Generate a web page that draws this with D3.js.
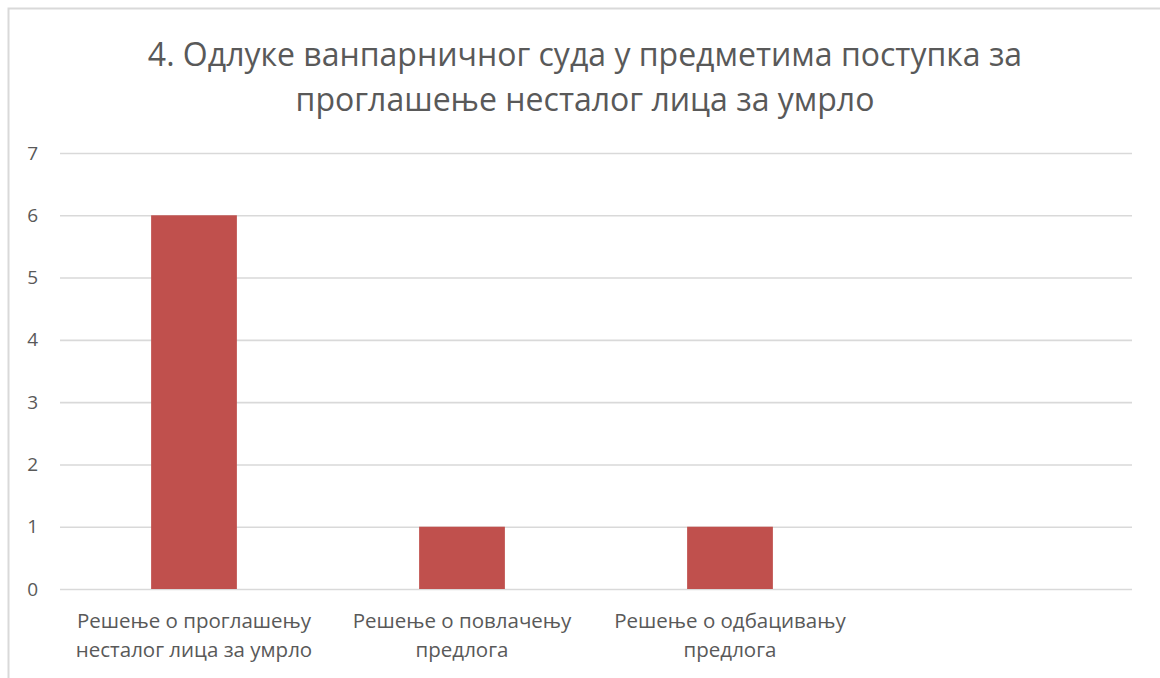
<!DOCTYPE html>
<html>
<head>
<meta charset="utf-8">
<script src="https://cdn.jsdelivr.net/npm/d3@7"></script>
<style>
  body { margin: 0; background: #fff; }
  svg { display: block; font-family: "Open Sans", sans-serif; }
</style>
</head>
<body>
<div id="chart"></div>
<script>
// data
const categories = [
  ["Решење о проглашењу", "несталог лица за умрло"],
  ["Решење о повлачењу", "предлога"],
  ["Решење о одбацивању", "предлога"],
  [""]
];
const values = [6, 1, 1, null];
const yTicks = [0, 1, 2, 3, 4, 5, 6, 7];
const titleLines = [
  "4. Одлуке ванпарничног суда у предметима поступка за",
  "проглашење несталог лица за умрло"
];

const width = 1160;
const height = 678;
const margin = { top: 153, right: 28, bottom: 89, left: 60 };

const svg = d3.select("#chart")
  .append("svg")
  .attr("width", width)
  .attr("height", height);

// outer frame (cropped at right and bottom)
svg.append("rect")
  .attr("x", 8.5).attr("y", 8.5)
  .attr("width", width + 20).attr("height", height + 20)
  .attr("fill", "#fff")
  .attr("stroke", "#d9d9d9")
  .attr("stroke-width", 2);

const x = d3.scaleBand()
  .domain(d3.range(categories.length))
  .range([margin.left, width - margin.right])
  .paddingInner(0.68)
  .paddingOuter(0.34);

const y = d3.scaleLinear()
  .domain([0, 7])
  .range([height - margin.bottom, margin.top]);

// gridlines + y labels
const yAxis = g => g
  .attr("transform", `translate(${margin.left},0)`)
  .call(d3.axisLeft(y).tickValues(yTicks).tickFormat(d3.format("d"))
    .tickSize(-(width - margin.right - margin.left)).tickPadding(22))
  .call(g => g.select(".domain").remove())
  .call(g => g.selectAll(".tick line").attr("stroke", "#d9d9d9").attr("stroke-width", 1.6))
  .call(g => g.selectAll(".tick text")
    .attr("fill", "#595959")
    .attr("font-size", 19)
    .attr("font-family", "Open Sans, sans-serif"));
svg.append("g").call(yAxis);

// bars
svg.append("g")
  .attr("fill", "#c0504d")
  .selectAll("rect")
  .data(values.map((v, i) => [i, v]).filter(d => d[1] != null))
  .join("rect")
    .attr("x", d => x(d[0]))
    .attr("y", d => y(d[1]))
    .attr("width", x.bandwidth())
    .attr("height", d => y(0) - y(d[1]));

// category labels
const labels = svg.append("g")
  .attr("fill", "#595959")
  .attr("font-size", 20.5)
  .attr("text-anchor", "middle");
categories.forEach((lines, i) => {
  const t = labels.append("text")
    .attr("x", x(i) + x.bandwidth() / 2)
    .attr("y", 628);
  lines.forEach((s, j) => {
    t.append("tspan")
      .attr("x", x(i) + x.bandwidth() / 2)
      .attr("dy", j === 0 ? 0 : 29)
      .text(s);
  });
});

// title
const title = svg.append("text")
  .attr("fill", "#595959")
  .attr("font-size", 32)
  .attr("text-anchor", "middle");
titleLines.forEach((s, j) => {
  title.append("tspan")
    .attr("x", 585)
    .attr("y", 66 + j * 45)
    .text(s);
});
</script>
</body>
</html>
